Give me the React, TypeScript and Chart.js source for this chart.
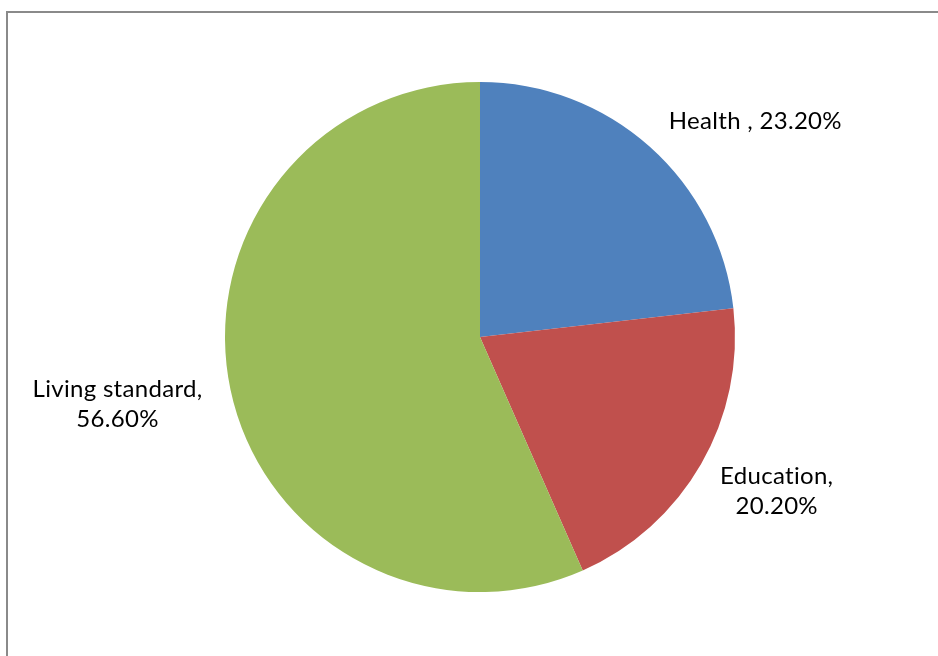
import React, { useEffect, useRef } from "react";
import { Chart, registerables } from "chart.js";

Chart.register(...registerables);

const categories: string[] = ["Health ", "Education", "Living standard"];
const values: number[] = [23.2, 20.2, 56.6];
const labelLines: string[][] = [
  ["Health , 23.20%"],
  ["Education,", "20.20%"],
  ["Living standard,", "56.60%"],
];
const colors: string[] = ["#4F81BD", "#C0504D", "#9BBB59"];

const FONT = "24px Lato";
const LINE_H = 30;

const labelPlugin = {
  id: "outsideLabels",
  afterDraw(chart: any) {
    const ctx = chart.ctx as CanvasRenderingContext2D;
    const meta = chart.getDatasetMeta(0);
    ctx.save();
    ctx.font = FONT;
    (ctx as any).letterSpacing = "0.3px";
    ctx.fillStyle = "#000000";
    ctx.textBaseline = "middle";
    meta.data.forEach((arc: any, i: number) => {
      const { x, y, startAngle, endAngle, outerRadius } = arc.getProps(
        ["x", "y", "startAngle", "endAngle", "outerRadius"],
        true
      );
      const mid = (startAngle + endAngle) / 2;
      const ex = x + Math.cos(mid) * outerRadius;
      const ey = y + Math.sin(mid) * outerRadius;
      const lines = labelLines[i];
      const w = Math.max(...lines.map((l) => ctx.measureText(l).width));
      const right = Math.cos(mid) >= 0;
      const left = right ? ex + 19 : ex - 28 - w;
      const cy = ey + 6 + 42 * Math.sin(mid);
      const top = cy - ((lines.length - 1) * LINE_H) / 2;
      ctx.textAlign = "center";
      lines.forEach((l, k) => {
        ctx.fillText(l, left + w / 2, top + k * LINE_H);
      });
    });
    ctx.restore();
  },
};

export default function App() {
  const ref = useRef<HTMLCanvasElement>(null);
  useEffect(() => {
    if (!ref.current) return;
    const chart = new Chart(ref.current, {
      type: "pie",
      data: {
        labels: categories,
        datasets: [
          {
            data: values,
            backgroundColor: colors,
            borderWidth: 0,
          },
        ],
      },
      options: {
        animation: false,
        responsive: false,
        devicePixelRatio: 1,
        layout: { padding: { top: 82, bottom: 64, left: 22, right: 0 } },
        plugins: {
          legend: { display: false },
          tooltip: { enabled: false },
        },
      },
      plugins: [labelPlugin],
    });
    return () => chart.destroy();
  }, []);
  return (
    <div
      style={{
        position: "fixed",
        left: 0,
        top: 0,
        width: 938,
        height: 656,
        overflow: "hidden",
        background: "#ffffff",
      }}
    >
      <div
        style={{
          position: "absolute",
          left: 6,
          top: 11,
          width: 1000,
          height: 1000,
          border: "2px solid #8a8a8a",
          boxSizing: "border-box",
        }}
      />
      <canvas
        ref={ref}
        width={938}
        height={656}
        style={{ position: "absolute", left: 0, top: 0, width: 938, height: 656 }}
      />
    </div>
  );
}
